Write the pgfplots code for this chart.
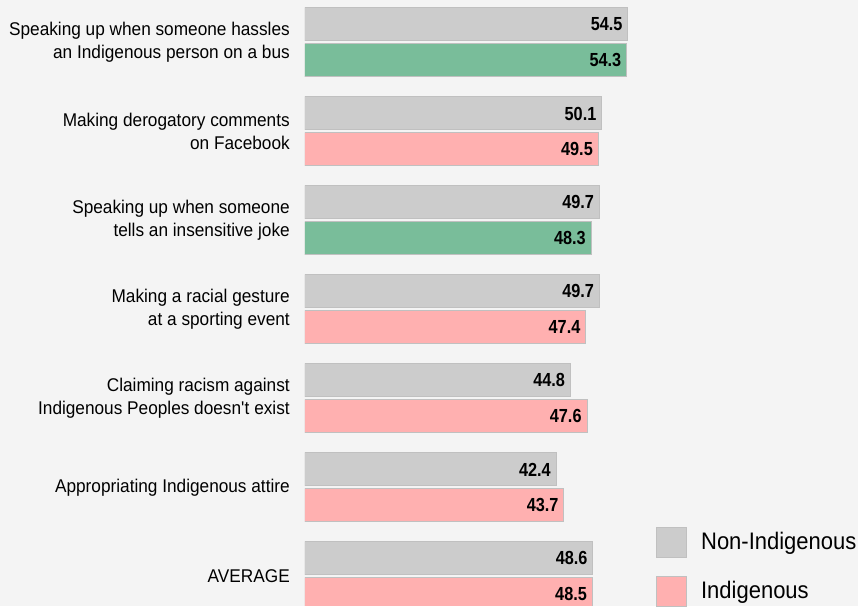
\documentclass[border=0pt]{standalone}
\usepackage{pgfplots}
\pgfplotsset{compat=1.18}
\usepackage{fontspec}
\setmainfont{Liberation Sans}[FakeStretch=0.935]
\newfontfamily\valfont[FakeStretch=0.86]{Liberation Sans}
\newfontfamily\legfont[FakeStretch=0.92]{Liberation Sans}
\definecolor{bg}{HTML}{F4F4F4}
\definecolor{greyb}{HTML}{CCCCCC}
\definecolor{greenb}{HTML}{79BD9A}
\definecolor{pinkb}{HTML}{FFB0B0}
\definecolor{edge}{HTML}{C0C0C0}
\begin{document}
\begin{tikzpicture}
\fill[bg] (0,0) rectangle (858bp,606bp);
\begin{axis}[
  at={(305bp,0bp)}, anchor=south west,
  scale only axis, width=553bp, height=606bp,
  xmin=0, xmax=93.30, ymin=0, ymax=606, y dir=reverse,
  axis line style={draw=none}, xtick=\empty, major tick length=0pt,
  ytick={42.5,131.5,220.5,309.5,398.5,487.5,576.5},
  yticklabels={{Speaking up when someone hassles\\an Indigenous person on a bus},
    {Making derogatory comments\\on Facebook},
    {Speaking up when someone\\tells an insensitive joke},
    {Making a racial gesture\\at a sporting event},
    {Claiming racism against\\Indigenous Peoples doesn\textquotesingle t exist},
    {Appropriating Indigenous attire},
    {AVERAGE}},
  yticklabel style={align=right, font=\fontsize{18.5}{23.5}\selectfont, inner sep=0pt, xshift=-15bp},
  xbar, bar width=33,
  nodes near coords, point meta=explicit symbolic,
  every node near coord/.append style={anchor=east, font=\valfont\bfseries\fontsize{19}{20}\selectfont, xshift=-5bp, inner sep=0pt, text=black},
  legend image code/.code={\draw[#1] (0bp,-15bp) rectangle (30bp,15bp);},
  legend cell align=left,
  legend style={draw=none, fill=none, at={(axis cs:59.22,527)}, anchor=north west,
    inner xsep=0pt, inner ysep=0pt, row sep=18bp,
    font=\legfont\fontsize{24}{24}\selectfont,
    nodes={inner sep=0pt, yshift=1.5bp},
    /tikz/every odd column/.append style={column sep=14bp}},
]
\addplot[fill=greyb, draw=edge, line width=1bp, bar shift=0pt] coordinates {
  (54.5,24.5) [54.5]
  (50.1,113.5) [50.1]
  (49.7,202.5) [49.7]
  (49.7,291.5) [49.7]
  (44.8,380.5) [44.8]
  (42.4,469.5) [42.4]
  (48.6,558.5) [48.6]
};
\addlegendentry{Non-Indigenous}
\addplot[fill=pinkb, draw=edge, line width=1bp, bar shift=0pt] coordinates {
  (49.5,149.5) [49.5]
  (47.4,327.5) [47.4]
  (47.6,416.5) [47.6]
  (43.7,505.5) [43.7]
  (48.5,594.5) [48.5]
};
\addlegendentry{Indigenous}
\addplot[fill=greenb, draw=edge, line width=1bp, bar shift=0pt, forget plot] coordinates {
  (54.3,60.5) [54.3]
  (48.3,238.5) [48.3]
};
\end{axis}
\end{tikzpicture}
\end{document}
